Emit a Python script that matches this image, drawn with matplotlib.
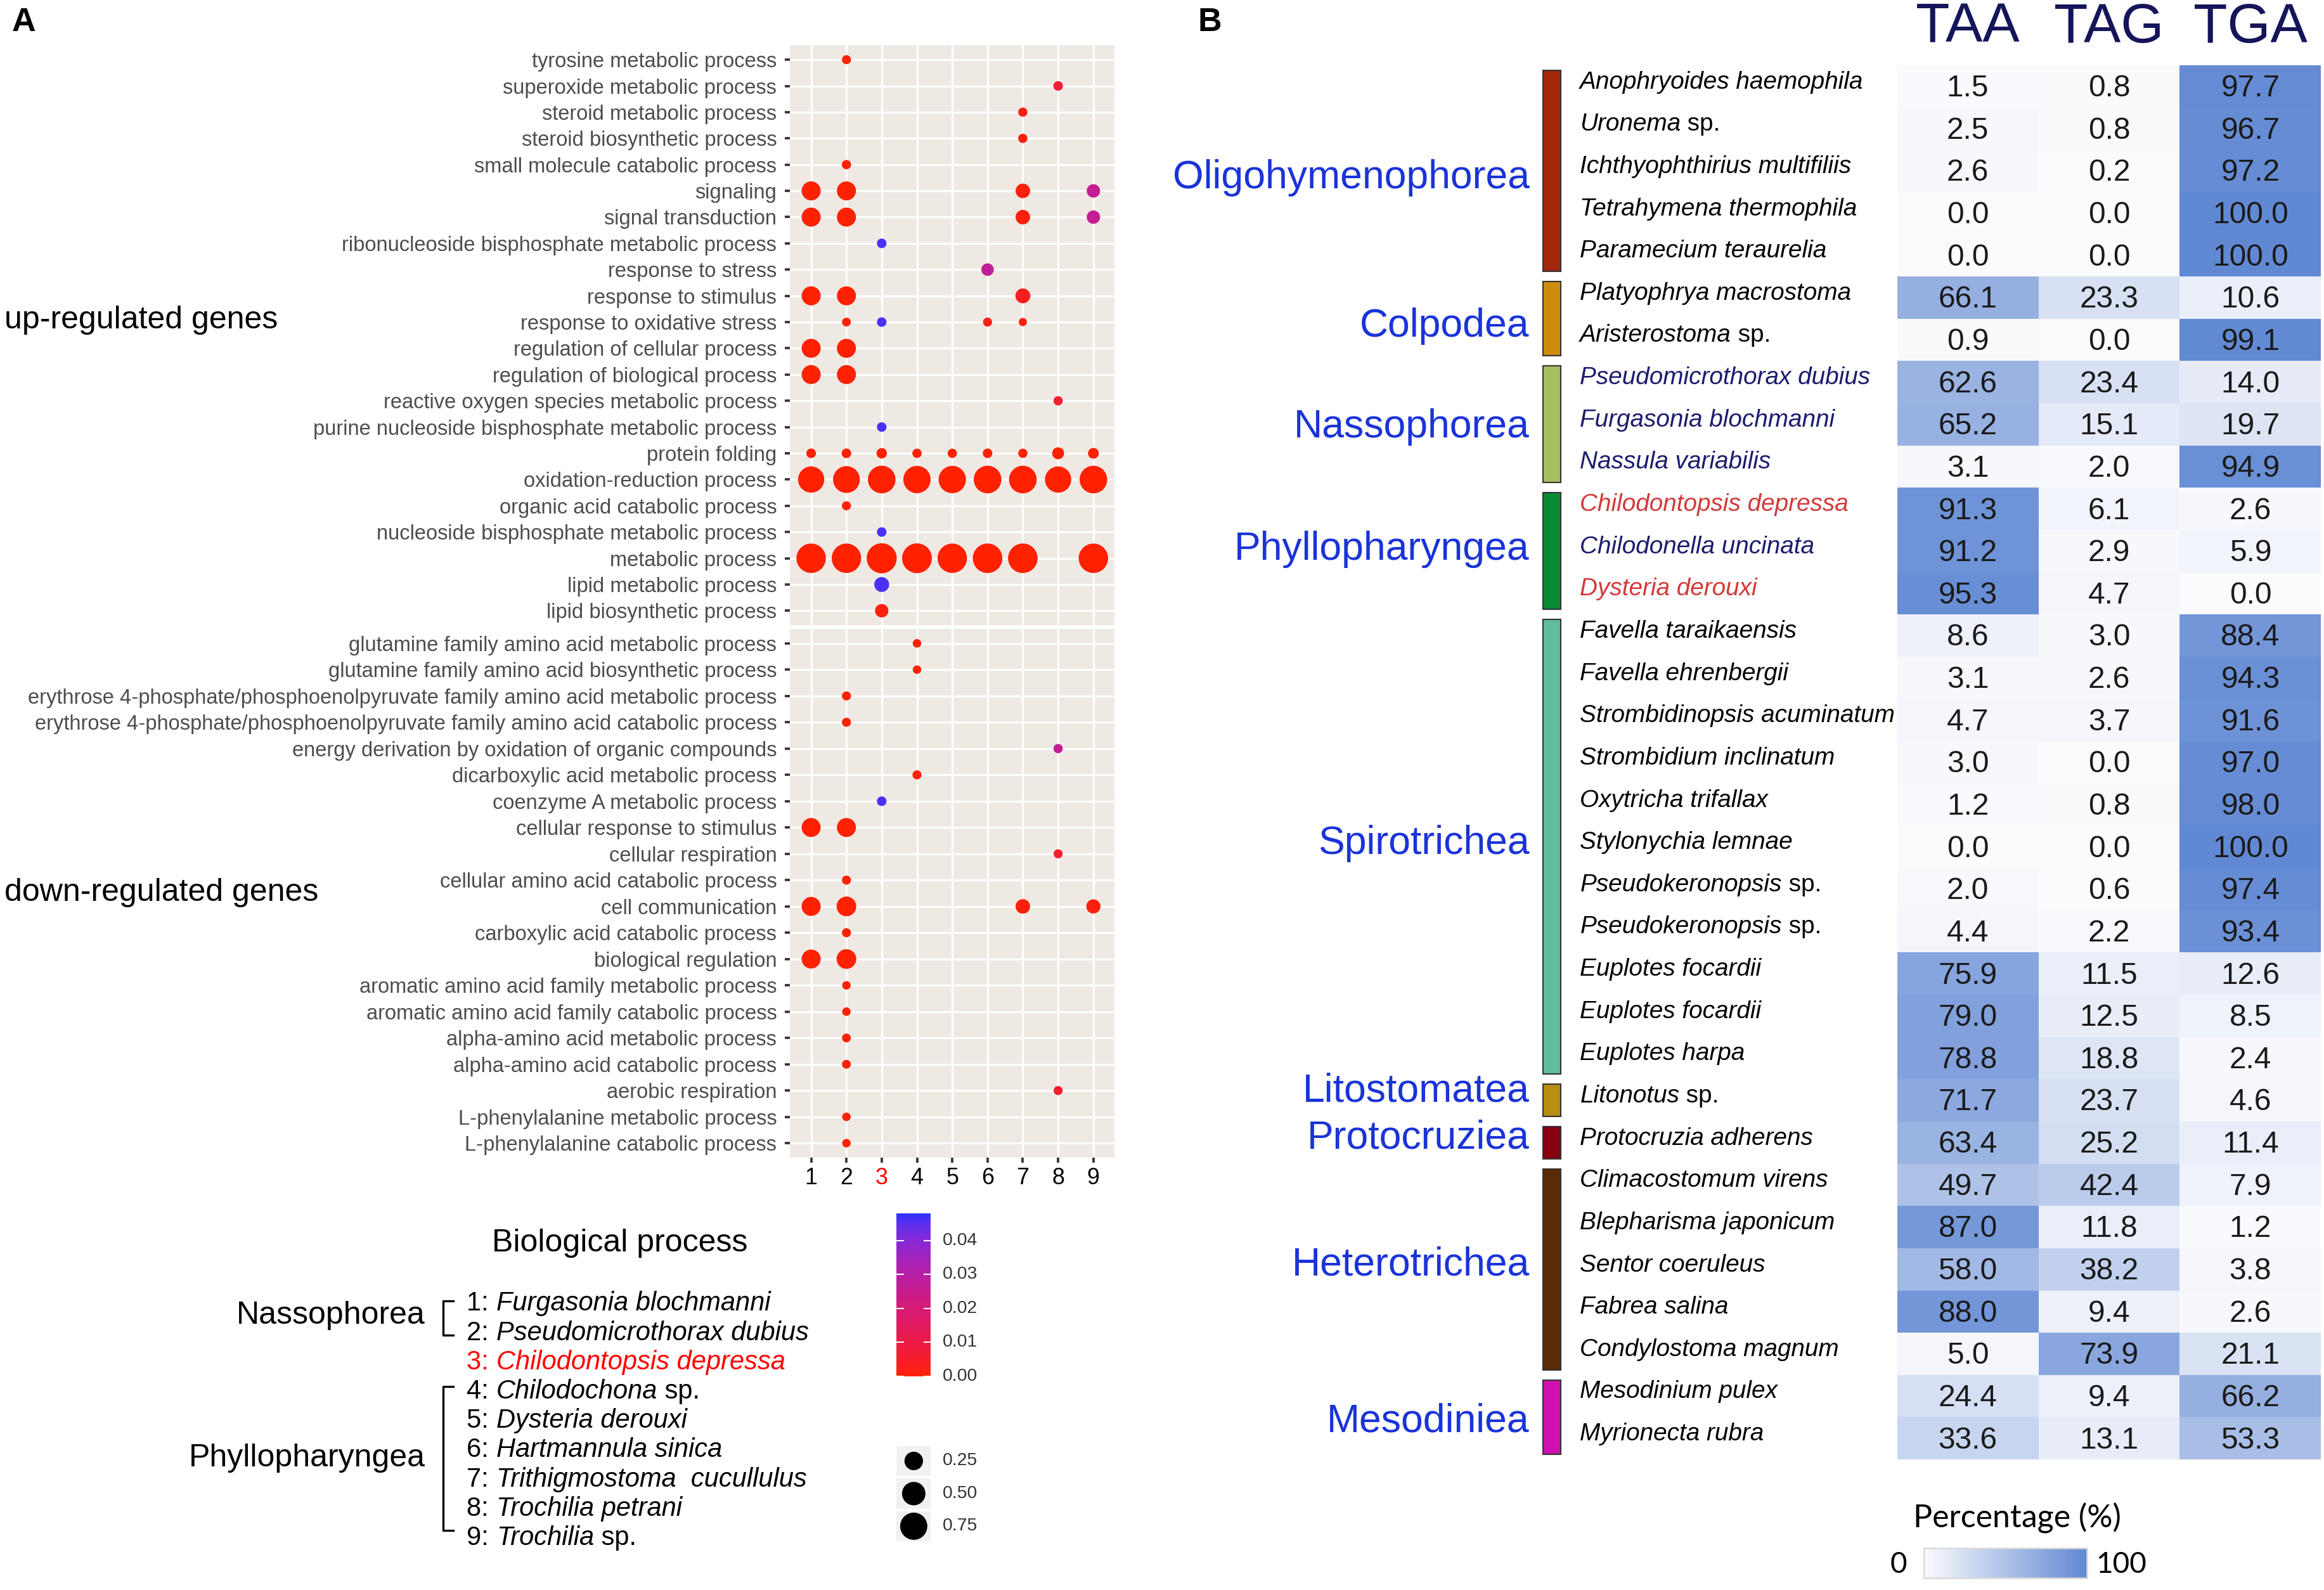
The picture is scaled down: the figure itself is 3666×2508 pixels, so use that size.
import numpy as np
import matplotlib
matplotlib.use('Agg')
import matplotlib.pyplot as plt
from matplotlib.colors import LinearSegmentedColormap, ListedColormap
from matplotlib.patches import Rectangle
from matplotlib.lines import Line2D

plt.rcParams['font.family'] = ['Liberation Sans', 'DejaVu Sans']

# ---------------- DATA: panel A ----------------
species_cols = [1, 2, 3, 4, 5, 6, 7, 8, 9]
species_A = [
    ("1: ", "Furgasonia blochmanni", ""),
    ("2: ", "Pseudomicrothorax dubius", ""),
    ("3: ", "Chilodontopsis depressa", ""),
    ("4: ", "Chilodochona", " sp."),
    ("5: ", "Dysteria derouxi", ""),
    ("6: ", "Hartmannula sinica", ""),
    ("7: ", "Trithigmostoma  cucullulus", ""),
    ("8: ", "Trochilia petrani", ""),
    ("9: ", "Trochilia", " sp."),
]
highlight_species = 3

up_terms = [
    "tyrosine metabolic process", "superoxide metabolic process", "steroid metabolic process",
    "steroid biosynthetic process", "small molecule catabolic process", "signaling",
    "signal transduction", "ribonucleoside bisphosphate metabolic process", "response to stress",
    "response to stimulus", "response to oxidative stress", "regulation of cellular process",
    "regulation of biological process", "reactive oxygen species metabolic process",
    "purine nucleoside bisphosphate metabolic process", "protein folding",
    "oxidation-reduction process", "organic acid catabolic process",
    "nucleoside bisphosphate metabolic process", "metabolic process",
    "lipid metabolic process", "lipid biosynthetic process",
]
down_terms = [
    "glutamine family amino acid metabolic process", "glutamine family amino acid biosynthetic process",
    "erythrose 4-phosphate/phosphoenolpyruvate family amino acid metabolic process",
    "erythrose 4-phosphate/phosphoenolpyruvate family amino acid catabolic process",
    "energy derivation by oxidation of organic compounds", "dicarboxylic acid metabolic process",
    "coenzyme A metabolic process", "cellular response to stimulus", "cellular respiration",
    "cellular amino acid catabolic process", "cell communication", "carboxylic acid catabolic process",
    "biological regulation", "aromatic amino acid family metabolic process",
    "aromatic amino acid family catabolic process", "alpha-amino acid metabolic process",
    "alpha-amino acid catabolic process", "aerobic respiration",
    "L-phenylalanine metabolic process", "L-phenylalanine catabolic process",
]

# (term, species column, gene ratio, p-value)
up_dots = [
    ("tyrosine metabolic process", 2, 0.01, 0.000),
    ("superoxide metabolic process", 8, 0.015, 0.007),
    ("steroid metabolic process", 7, 0.012, 0.001),
    ("steroid biosynthetic process", 7, 0.012, 0.001),
    ("small molecule catabolic process", 2, 0.012, 0.000),
    ("signaling", 1, 0.27, 0.000), ("signaling", 2, 0.27, 0.000),
    ("signaling", 7, 0.11, 0.001), ("signaling", 9, 0.08, 0.026),
    ("signal transduction", 1, 0.27, 0.000), ("signal transduction", 2, 0.27, 0.000),
    ("signal transduction", 7, 0.11, 0.001), ("signal transduction", 9, 0.08, 0.026),
    ("ribonucleoside bisphosphate metabolic process", 3, 0.015, 0.046),
    ("response to stress", 6, 0.06, 0.027),
    ("response to stimulus", 1, 0.27, 0.000), ("response to stimulus", 2, 0.27, 0.000),
    ("response to stimulus", 7, 0.12, 0.003),
    ("response to oxidative stress", 2, 0.008, 0.000), ("response to oxidative stress", 3, 0.015, 0.046),
    ("response to oxidative stress", 6, 0.01, 0.002), ("response to oxidative stress", 7, 0.004, 0.001),
    ("regulation of cellular process", 1, 0.27, 0.000), ("regulation of cellular process", 2, 0.27, 0.000),
    ("regulation of biological process", 1, 0.27, 0.000), ("regulation of biological process", 2, 0.27, 0.000),
    ("reactive oxygen species metabolic process", 8, 0.012, 0.006),
    ("purine nucleoside bisphosphate metabolic process", 3, 0.015, 0.046),
    ("protein folding", 1, 0.015, 0.000), ("protein folding", 2, 0.015, 0.000),
    ("protein folding", 3, 0.025, 0.000), ("protein folding", 4, 0.012, 0.000),
    ("protein folding", 5, 0.012, 0.000), ("protein folding", 6, 0.015, 0.000),
    ("protein folding", 7, 0.012, 0.000), ("protein folding", 8, 0.05, 0.000),
    ("protein folding", 9, 0.03, 0.000),
    ("oxidation-reduction process", 1, 0.68, 0.000), ("oxidation-reduction process", 2, 0.72, 0.000),
    ("oxidation-reduction process", 3, 0.78, 0.000), ("oxidation-reduction process", 4, 0.76, 0.000),
    ("oxidation-reduction process", 5, 0.76, 0.000), ("oxidation-reduction process", 6, 0.78, 0.000),
    ("oxidation-reduction process", 7, 0.78, 0.000), ("oxidation-reduction process", 8, 0.68, 0.000),
    ("oxidation-reduction process", 9, 0.78, 0.000),
    ("organic acid catabolic process", 2, 0.01, 0.000),
    ("nucleoside bisphosphate metabolic process", 3, 0.015, 0.046),
    ("metabolic process", 1, 0.92, 0.000), ("metabolic process", 2, 0.92, 0.000),
    ("metabolic process", 3, 0.97, 0.000), ("metabolic process", 4, 0.95, 0.000),
    ("metabolic process", 5, 0.92, 0.000), ("metabolic process", 6, 0.93, 0.000),
    ("metabolic process", 7, 0.93, 0.000), ("metabolic process", 9, 0.92, 0.000),
    ("lipid metabolic process", 3, 0.12, 0.046),
    ("lipid biosynthetic process", 3, 0.08, 0.001),
]
down_dots = [
    ("glutamine family amino acid metabolic process", 4, 0.006, 0.000),
    ("glutamine family amino acid biosynthetic process", 4, 0.006, 0.000),
    ("erythrose 4-phosphate/phosphoenolpyruvate family amino acid metabolic process", 2, 0.01, 0.000),
    ("erythrose 4-phosphate/phosphoenolpyruvate family amino acid catabolic process", 2, 0.01, 0.000),
    ("energy derivation by oxidation of organic compounds", 8, 0.012, 0.026),
    ("dicarboxylic acid metabolic process", 4, 0.01, 0.000),
    ("coenzyme A metabolic process", 3, 0.015, 0.046),
    ("cellular response to stimulus", 1, 0.27, 0.000), ("cellular response to stimulus", 2, 0.27, 0.000),
    ("cellular respiration", 8, 0.01, 0.006),
    ("cellular amino acid catabolic process", 2, 0.01, 0.000),
    ("cell communication", 1, 0.27, 0.000), ("cell communication", 2, 0.3, 0.000),
    ("cell communication", 7, 0.11, 0.001), ("cell communication", 9, 0.1, 0.001),
    ("carboxylic acid catabolic process", 2, 0.01, 0.000),
    ("biological regulation", 1, 0.27, 0.000), ("biological regulation", 2, 0.3, 0.000),
    ("aromatic amino acid family metabolic process", 2, 0.006, 0.000),
    ("aromatic amino acid family catabolic process", 2, 0.006, 0.000),
    ("alpha-amino acid metabolic process", 2, 0.008, 0.000),
    ("alpha-amino acid catabolic process", 2, 0.008, 0.000),
    ("aerobic respiration", 8, 0.01, 0.006),
    ("L-phenylalanine metabolic process", 2, 0.006, 0.000),
    ("L-phenylalanine catabolic process", 2, 0.006, 0.000),
]
size_breaks = [0.25, 0.50, 0.75]
p_breaks = [0.00, 0.01, 0.02, 0.03, 0.04]
p_limits = (0.0, 0.048)

# ---------------- DATA: panel B ----------------
classes = ["Oligohymenophorea", "Colpodea", "Nassophorea", "Phyllopharyngea", "Spirotrichea",
           "Litostomatea", "Protocruziea", "Heterotrichea", "Mesodiniea"]
class_sizes = [5, 2, 3, 3, 11, 1, 1, 5, 2]
class_colors = ["#a3260c", "#d18b0c", "#a6bd62", "#0b8a36", "#5dbd9d",
                "#b58e12", "#86000f", "#5a2b07", "#cf0fae"]
species_B = [
    ("Anophryoides haemophila", ""), ("Uronema", " sp."), ("Ichthyophthirius multifiliis", ""),
    ("Tetrahymena thermophila", ""), ("Paramecium teraurelia", ""), ("Platyophrya macrostoma", ""),
    ("Aristerostoma", " sp."), ("Pseudomicrothorax dubius", ""), ("Furgasonia blochmanni", ""),
    ("Nassula variabilis", ""), ("Chilodontopsis depressa", ""), ("Chilodonella uncinata", ""),
    ("Dysteria derouxi", ""), ("Favella taraikaensis", ""), ("Favella ehrenbergii", ""),
    ("Strombidinopsis acuminatum", ""), ("Strombidium inclinatum", ""), ("Oxytricha trifallax", ""),
    ("Stylonychia lemnae", ""), ("Pseudokeronopsis", " sp."), ("Pseudokeronopsis", " sp."),
    ("Euplotes focardii", ""), ("Euplotes focardii", ""), ("Euplotes harpa", ""),
    ("Litonotus", " sp."), ("Protocruzia adherens", ""), ("Climacostomum virens", ""),
    ("Blepharisma japonicum", ""), ("Sentor coeruleus", ""), ("Fabrea salina", ""),
    ("Condylostoma magnum", ""), ("Mesodinium pulex", ""), ("Myrionecta rubra", ""),
]
navy_species = ["Pseudomicrothorax dubius", "Furgasonia blochmanni", "Nassula variabilis",
                "Chilodonella uncinata"]
red_species = ["Chilodontopsis depressa", "Dysteria derouxi"]
codons = ["TAA", "TAG", "TGA"]
taa = [1.5, 2.5, 2.6, 0.0, 0.0, 66.1, 0.9, 62.6, 65.2, 3.1, 91.3, 91.2, 95.3, 8.6, 3.1, 4.7, 3.0,
       1.2, 0.0, 2.0, 4.4, 75.9, 79.0, 78.8, 71.7, 63.4, 49.7, 87.0, 58.0, 88.0, 5.0, 24.4, 33.6]
tag = [0.8, 0.8, 0.2, 0.0, 0.0, 23.3, 0.0, 23.4, 15.1, 2.0, 6.1, 2.9, 4.7, 3.0, 2.6, 3.7, 0.0,
       0.8, 0.0, 0.6, 2.2, 11.5, 12.5, 18.8, 23.7, 25.2, 42.4, 11.8, 38.2, 9.4, 73.9, 9.4, 13.1]
tga = [97.7, 96.7, 97.2, 100.0, 100.0, 10.6, 99.1, 14.0, 19.7, 94.9, 2.6, 5.9, 0.0, 88.4, 94.3,
       91.6, 97.0, 98.0, 100.0, 97.4, 93.4, 12.6, 8.5, 2.4, 4.6, 11.4, 7.9, 1.2, 3.8, 2.6, 21.1,
       66.2, 53.3]

# ---------------- helpers ----------------
W0, H0 = 1568.0, 1072.0


def fx(x):
    return x / W0


def fy(y):
    return 1 - y / H0


def rect(x0, y0, x1, y1):
    return [fx(x0), fy(y1), fx(x1) - fx(x0), fy(y0) - fy(y1)]


def srgb_to_lab(c):
    c = np.asarray(c, float)
    lin = np.where(c <= 0.04045, c / 12.92, ((c + 0.055) / 1.055) ** 2.4)
    M = np.array([[0.4124, 0.3576, 0.1805], [0.2126, 0.7152, 0.0722], [0.0193, 0.1192, 0.9505]])
    xyz = M @ lin / np.array([0.95047, 1.0, 1.08883])
    f = np.where(xyz > 0.008856, np.cbrt(xyz), 7.787 * xyz + 16 / 116)
    return np.array([116 * f[1] - 16, 500 * (f[0] - f[1]), 200 * (f[1] - f[2])])


def lab_to_srgb(lab):
    L, a, b = lab
    fyv = (L + 16) / 116
    fxv = fyv + a / 500
    fzv = fyv - b / 200
    f = np.array([fxv, fyv, fzv])
    xyz = np.where(f ** 3 > 0.008856, f ** 3, (f - 16 / 116) / 7.787) * np.array([0.95047, 1.0, 1.08883])
    Minv = np.array([[3.2406, -1.5372, -0.4986], [-0.9689, 1.8758, 0.0415], [0.0557, -0.2040, 1.0570]])
    lin = Minv @ xyz
    lin = np.clip(lin, 0, 1)
    c = np.where(lin <= 0.0031308, 12.92 * lin, 1.055 * lin ** (1 / 2.4) - 0.055)
    return np.clip(c, 0, 1)


lab_lo = srgb_to_lab([1.0, 0.13, 0.0])
lab_hi = srgb_to_lab([0.12, 0.2, 1.0])
p_cmap = ListedColormap([lab_to_srgb(lab_lo + (lab_hi - lab_lo) * t) for t in np.linspace(0, 1, 256)])
pct_cmap = LinearSegmentedColormap.from_list("pct", ["#fbfbfd", "#6189d3"])

PT_PER_PX = (3666 / W0) * 72 / 300.0


def dot_area(v):
    d = 4.5 + 16 * np.sqrt(np.asarray(v, float))
    return (d * PT_PER_PX) ** 2


fig = plt.figure(figsize=(12.22, 8.36), dpi=300)
renderer = fig.canvas.get_renderer()
FIGW = fig.get_figwidth() * fig.dpi


def text_w(s, **kw):
    t1 = fig.text(0, 0, s + "|", **kw)
    t2 = fig.text(0, 0, "|", **kw)
    w = t1.get_window_extent(renderer).width - t2.get_window_extent(renderer).width
    t1.remove()
    t2.remove()
    return w / FIGW


def rich(x, y, pieces, size, color):
    widths = [text_w(s, fontsize=size, style=st) for s, st in pieces]
    cx = x
    for (s, st), w in zip(pieces, widths):
        if s:
            fig.text(cx, y, s, fontsize=size, style=st, color=color, ha='left', va='center')
        cx += w


# ---------------- panel A: dot plot ----------------
BG = "#efe9e4"


def facet(ax, terms, dots, show_x):
    n = len(terms)
    ax.set_facecolor(BG)
    ax.set_xlim(0.4, 9.6)
    ax.set_ylim(n - 1 + 0.55, -0.55)
    ax.set_xticks(species_cols)
    ax.set_yticks(range(n))
    ax.set_yticklabels(terms, fontsize=7.85, color="#4d4d4d")
    ax.grid(True, color="white", lw=0.75)
    ax.set_axisbelow(True)
    for s in ax.spines.values():
        s.set_visible(False)
    ax.tick_params(axis='y', length=2.0, width=0.9, color="#333333", pad=3.0)
    if show_x:
        ax.set_xticklabels([str(c) for c in species_cols], fontsize=8.6, color="black")
        ax.tick_params(axis='x', length=2.0, width=0.9, color="#333333", pad=1.5)
        ax.get_xticklabels()[highlight_species - 1].set_color("red")
    else:
        ax.tick_params(axis='x', length=0, labelbottom=False)
    idx = {t: i for i, t in enumerate(terms)}
    xs = [d[1] for d in dots]
    ys = [idx[d[0]] for d in dots]
    ss = dot_area([d[2] for d in dots])
    cs = [d[3] for d in dots]
    ax.scatter(xs, ys, s=ss, c=cs, cmap=p_cmap, vmin=p_limits[0], vmax=p_limits[1],
               edgecolors='none', zorder=3)


ax_up = fig.add_axes(rect(533, 30.5, 752, 421.5))
facet(ax_up, up_terms, up_dots, False)
ax_dn = fig.add_axes(rect(533, 424, 752, 780.5))
facet(ax_dn, down_terms, down_dots, True)

fig.text(fx(8), fy(15), "A", fontsize=12.5, fontweight='bold', ha='left', va='center')
fig.text(fx(3), fy(216), "up-regulated genes", fontsize=12, ha='left', va='center')
fig.text(fx(3), fy(602), "down-regulated genes", fontsize=12, ha='left', va='center')

# legend of species
fig.text(fx(418), fy(838), "Biological process", fontsize=12, ha='center', va='center')
fig.text(fx(287), fy(887), "Nassophorea", fontsize=12, ha='right', va='center')
fig.text(fx(287), fy(983), "Phyllopharyngea", fontsize=12, ha='right', va='center')
for i, (num, name, tail) in enumerate(species_A):
    col = "red" if (i + 1) == highlight_species else "black"
    rich(fx(315), fy(879 + 19.75 * i), [(num, 'normal'), (name, 'italic'), (tail, 'normal')], 10.0, col)
for (y0, y1) in [(877, 900), (935, 1032)]:
    fig.add_artist(Line2D([fx(306), fx(299), fx(299), fx(306)], [fy(y0), fy(y0), fy(y1), fy(y1)],
                          transform=fig.transFigure, color="black", lw=0.8))

# p-value colorbar
ax_cb = fig.add_axes(rect(605, 818, 628, 928))
grad = np.linspace(p_limits[0], p_limits[1], 256).reshape(-1, 1)
ax_cb.imshow(grad, cmap=p_cmap, aspect='auto', origin='lower',
             extent=[0, 1, p_limits[0], p_limits[1]], vmin=p_limits[0], vmax=p_limits[1])
ax_cb.set_xlim(0, 1)
ax_cb.set_ylim(*p_limits)
ax_cb.set_xticks([])
ax_cb.set_yticks([])
for s in ax_cb.spines.values():
    s.set_visible(False)
for v in p_breaks:
    ax_cb.plot([0, 0.2], [v, v], color="white", lw=0.5)
    ax_cb.plot([0.8, 1.0], [v, v], color="white", lw=0.5)
    yy = fy(928) + (fy(818) - fy(928)) * (v - p_limits[0]) / (p_limits[1] - p_limits[0])
    fig.text(fx(636), yy, f"{v:.2f}", fontsize=6.8, color="#333333", ha='left', va='center')

# size legend
key_y = [985, 1007, 1029]
ax_sz = fig.add_axes(rect(605, 974.5, 628, 1039.5))
ax_sz.set_xlim(0, 1)
ax_sz.set_ylim(1039.5, 974.5)
ax_sz.axis('off')
for v, yc in zip(size_breaks, key_y):
    ax_sz.add_patch(Rectangle((0, yc - 10.2), 1, 20.4, facecolor="#f1f1f1", edgecolor='none', zorder=1))
    fig.text(fx(636), fy(yc), f"{v:.2f}", fontsize=6.8, color="#333333", ha='left', va='center')
ax_sz.scatter([0.5] * 3, key_y, s=dot_area(size_breaks), c="black", edgecolors='none', zorder=3)

# ---------------- panel B: heatmap ----------------
fig.text(fx(808), fy(15), "B", fontsize=12.5, fontweight='bold', ha='left', va='center')
vals = np.array([taa, tag, tga]).T
nrow = vals.shape[0]
HX0, HY0, HX1, HY1 = 1280, 44, 1566, 984
ax_h = fig.add_axes(rect(HX0, HY0, HX1, HY1))
ax_h.pcolormesh(np.arange(4), np.arange(nrow + 1), vals, cmap=pct_cmap, vmin=0, vmax=100,
                shading='flat')
ax_h.set_xlim(0, 3)
ax_h.set_ylim(nrow, 0)
ax_h.axis('off')
for i in range(nrow):
    for j in range(3):
        ax_h.text(j + 0.5, i + 0.55, f"{vals[i, j]:.1f}", fontsize=11.5, color="#1a1a1a",
                  ha='center', va='center')

col_w = (HX1 - HX0) / 3
for j, c in enumerate(codons):
    fig.text(fx(HX0 + col_w * (j + 0.5)), fy(19), c, fontsize=21, color="#15155a",
             ha='center', va='center')

row_h = (HY1 - HY0) / nrow
label_shift = [0.17, 0.17, 0.06, -0.04, -0.08, -0.22, -0.11, -0.11, 0.10]
start = 0
for cname, n, ccol, sh in zip(classes, class_sizes, class_colors, label_shift):
    top = HY0 + row_h * (start + 0.12)
    bot = HY0 + row_h * (start + n - 0.12)
    fig.add_artist(Rectangle((fx(1041), fy(bot)), fx(1053) - fx(1041), fy(top) - fy(bot),
                             transform=fig.transFigure, facecolor=ccol, edgecolor="#333333", lw=0.5))
    yc = HY0 + row_h * (start + n / 2.0 + sh)
    fig.text(fx(1032), fy(yc), cname, fontsize=15, color="#1a33d9", ha='right', va='center')
    start += n

for i, (name, tail) in enumerate(species_B):
    if name in red_species:
        col = "#d23a3a"
    elif name in navy_species:
        col = "#1c1c6e"
    else:
        col = "black"
    yc = HY0 + row_h * (i + 0.4)
    rich(fx(1066), fy(yc), [(name, 'italic'), (tail, 'normal')], 9.3, col)

# percentage colorbar
fig.text(fx(1361), fy(1023), "Percentage (%)", fontsize=12, ha='center', va='center',
         family=['Lato', 'Liberation Sans'])
ax_pc = fig.add_axes(rect(1298, 1044, 1408, 1064))
ax_pc.imshow(np.linspace(0, 100, 256).reshape(1, -1), cmap=pct_cmap, aspect='auto',
             extent=[0, 100, 0, 1], vmin=0, vmax=100)
ax_pc.set_xticks([])
ax_pc.set_yticks([])
for s in ax_pc.spines.values():
    s.set_color("#d9d9d9")
    s.set_linewidth(0.6)
fig.text(fx(1281), fy(1055), "0", fontsize=11, ha='center', va='center', family=['Lato', 'Liberation Sans'])
fig.text(fx(1414), fy(1055), "100", fontsize=11, ha='left', va='center', family=['Lato', 'Liberation Sans'])

fig.savefig("out.png", dpi=300, facecolor="white")
